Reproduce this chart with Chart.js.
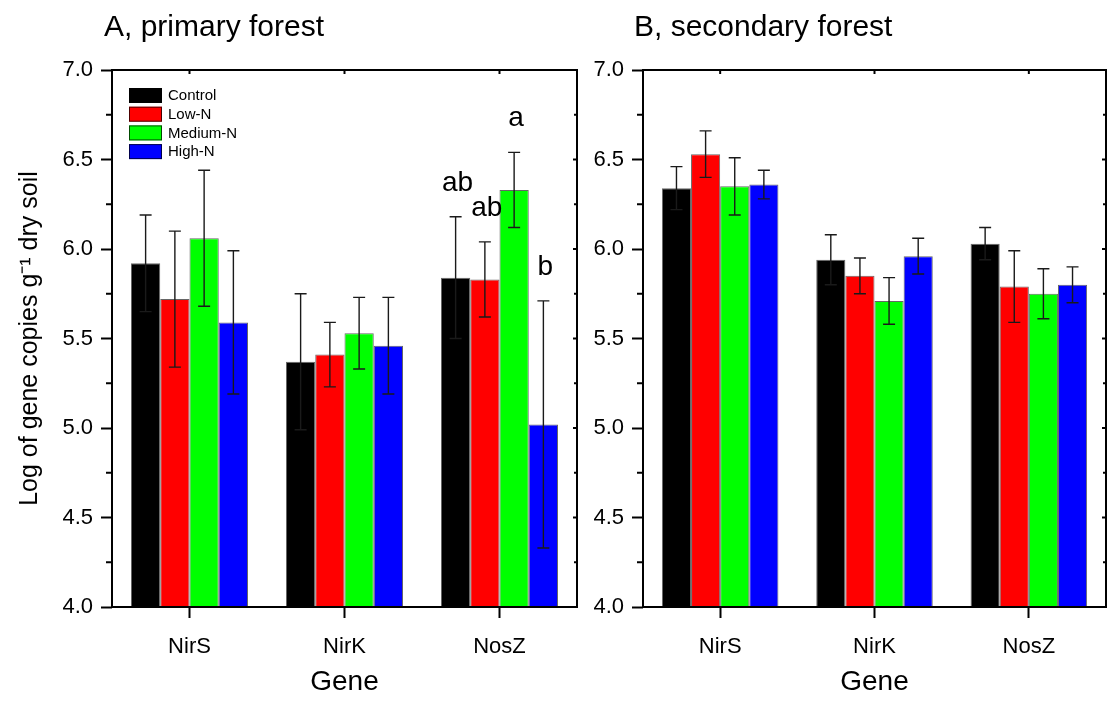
<!DOCTYPE html>
<html>
<head>
<meta charset="utf-8">
<script src="https://cdn.jsdelivr.net/npm/chart.js@4.4.1/dist/chart.umd.min.js"></script>
<style>
  html, body { margin: 0; padding: 0; background: #fff; }
  #wrap { position: relative; width: 1107px; height: 702px; overflow: hidden; font-family: "Liberation Sans", Arial, sans-serif; }
  canvas { position: absolute; top: 0; }
  .ptitle { position: absolute; top: 0; height: 52px; line-height: 52px; font-size: 30px; color: #000; white-space: nowrap; }
</style>
</head>
<body>
<div id="wrap">
  <canvas id="cA" width="580" height="702" style="left:0px"></canvas>
  <canvas id="cB" width="527" height="702" style="left:580px"></canvas>
  <div class="ptitle" style="left:104px">A, primary forest</div>
  <div class="ptitle" style="left:634px">B, secondary forest</div>
</div>
<script>
// ---- data ----
const genes = ['NirS', 'NirK', 'NosZ'];
const treatments = ['Control', 'Low-N', 'Medium-N', 'High-N'];
const treatmentColors = ['#000000', '#FF0000', '#00FF00', '#0000FF'];
const yTickMin = 4.0;
const yTickMax = 7.0;
const yTickStep = 0.5;

// A, primary forest (means and error)
const primaryControl = [5.92, 5.37, 5.84];
const primaryLowN    = [5.72, 5.41, 5.83];
const primaryMediumN = [6.06, 5.53, 6.33];
const primaryHighN   = [5.59, 5.46, 5.02];
const primaryControlErr = [0.27, 0.38, 0.34];
const primaryLowNErr    = [0.38, 0.18, 0.21];
const primaryMediumNErr = [0.38, 0.20, 0.21];
const primaryHighNErr   = [0.40, 0.27, 0.69];
// significance letters (per treatment, per gene)
const primaryControlLetters = ['', '', 'ab'];
const primaryLowNLetters    = ['', '', 'ab'];
const primaryMediumNLetters = ['', '', 'a'];
const primaryHighNLetters   = ['', '', 'b'];

// B, secondary forest
const secondaryControl = [6.34, 5.94, 6.03];
const secondaryLowN    = [6.53, 5.85, 5.79];
const secondaryMediumN = [6.35, 5.71, 5.75];
const secondaryHighN   = [6.36, 5.96, 5.80];
const secondaryControlErr = [0.12, 0.14, 0.09];
const secondaryLowNErr    = [0.13, 0.10, 0.20];
const secondaryMediumNErr = [0.16, 0.13, 0.14];
const secondaryHighNErr   = [0.08, 0.10, 0.10];

const FONT = '"Liberation Sans", Arial, sans-serif';

function makeDatasets(means, errs, letters) {
  return treatments.map((t, i) => ({
    label: t,
    data: means[i],
    errors: errs[i],
    letters: letters ? letters[i] : null,
    backgroundColor: treatmentColors[i],
    borderColor: 'rgba(0,0,0,0.6)',
    borderWidth: 1,
    borderSkipped: 'bottom',
    categoryPercentage: 0.755,
    barPercentage: 1.0
  }));
}

const frameAndTicks = {
  id: 'frameAndTicks',
  afterDraw(chart) {
    const ctx = chart.ctx;
    const a = chart.chartArea;
    const ys = chart.scales.y, xs = chart.scales.x;
    ctx.save();
    ctx.strokeStyle = '#000';
    ctx.lineWidth = 2;
    ctx.strokeRect(a.left, a.top, a.right - a.left, a.bottom - a.top);
    const t = ys.ticks;
    for (let i = 0; i < t.length; i++) {
      const yp = ys.getPixelForValue(t[i].value);
      ctx.beginPath(); ctx.moveTo(a.right, yp); ctx.lineTo(a.right - 4, yp); ctx.stroke();
      if (i < t.length - 1) {
        const mv = (t[i].value + t[i + 1].value) / 2;
        const mp = ys.getPixelForValue(mv);
        ctx.beginPath(); ctx.moveTo(a.left, mp); ctx.lineTo(a.left - 6, mp); ctx.stroke();
        ctx.beginPath(); ctx.moveTo(a.right, mp); ctx.lineTo(a.right - 3, mp); ctx.stroke();
      }
    }
    for (let i = 0; i < xs.ticks.length; i++) {
      const xp = xs.getPixelForTick(i);
      ctx.beginPath(); ctx.moveTo(xp, a.top); ctx.lineTo(xp, a.top + 4); ctx.stroke();
    }
    ctx.restore();
  }
};

const errorBars = {
  id: 'errorBars',
  afterDatasetsDraw(chart) {
    const ctx = chart.ctx;
    const ys = chart.scales.y;
    ctx.save();
    ctx.strokeStyle = '#1a1a1a';
    ctx.lineWidth = 1.4;
    chart.data.datasets.forEach((ds, di) => {
      const meta = chart.getDatasetMeta(di);
      meta.data.forEach((bar, j) => {
        const v = ds.data[j], e = ds.errors[j];
        const x = bar.x;
        const yT = ys.getPixelForValue(v + e);
        const yB = ys.getPixelForValue(v - e);
        ctx.beginPath();
        ctx.moveTo(x, yT); ctx.lineTo(x, yB);
        ctx.moveTo(x - 6, yT); ctx.lineTo(x + 6, yT);
        ctx.moveTo(x - 6, yB); ctx.lineTo(x + 6, yB);
        ctx.stroke();
        if (ds.letters && ds.letters[j]) {
          ctx.fillStyle = '#000';
          ctx.font = '28px ' + FONT;
          ctx.textAlign = 'center';
          ctx.textBaseline = 'alphabetic';
          ctx.fillText(ds.letters[j], x + 2, yT - 26);
        }
      });
    });
    ctx.restore();
  }
};

const innerLegend = {
  id: 'innerLegend',
  afterDraw(chart) {
    if (!chart.options.plugins.innerLegend || !chart.options.plugins.innerLegend.show) return;
    const ctx = chart.ctx;
    const a = chart.chartArea;
    const x0 = a.left + 17, y0 = a.top + 18, pitch = 18.7;
    ctx.save();
    ctx.font = '15px ' + FONT;
    ctx.textBaseline = 'middle';
    ctx.textAlign = 'left';
    chart.data.datasets.forEach((ds, i) => {
      const y = y0 + i * pitch;
      ctx.fillStyle = ds.backgroundColor;
      ctx.fillRect(x0, y, 33, 15);
      ctx.strokeStyle = 'rgba(0,0,0,0.7)';
      ctx.lineWidth = 1;
      ctx.strokeRect(x0 + 0.5, y + 0.5, 32, 14);
      ctx.fillStyle = '#000';
      ctx.fillText(ds.label, x0 + 39, y + 8);
    });
    ctx.restore();
  }
};

function makeChart(id, datasets, opts) {
  return new Chart(document.getElementById(id), {
    type: 'bar',
    data: { labels: genes, datasets },
    plugins: [errorBars, frameAndTicks, innerLegend],
    options: {
      responsive: false,
      animation: false,
      devicePixelRatio: 1,
      layout: { padding: { top: 70, right: opts.padRight, bottom: 0, left: 0 } },
      plugins: {
        legend: { display: false },
        tooltip: { enabled: false },
        innerLegend: { show: opts.legend }
      },
      scales: {
        x: {
          offset: true,
          border: { display: false },
          grid: { display: true, drawOnChartArea: false, drawTicks: true, tickLength: 11, tickWidth: 2, tickColor: '#000', offset: false },
          ticks: { color: '#000', font: { family: FONT, size: 22 }, padding: 16, maxRotation: 0 },
          title: { display: true, text: 'Gene', color: '#000', font: { family: FONT, size: 28 }, padding: { top: 0, bottom: 3 } },
          afterFit(s) { s.height = 95; }
        },
        y: {
          min: yTickMin,
          max: yTickMax,
          border: { display: false },
          grid: { display: true, drawOnChartArea: false, drawTicks: true, tickLength: 11, tickWidth: 2, tickColor: '#000' },
          ticks: { stepSize: yTickStep, color: '#000', font: { family: FONT, size: 22 }, padding: 8,
                   callback: v => Number(v).toFixed(1) },
          title: { display: opts.yTitle, text: 'Log of gene copies g\u207B\u00B9 dry soil', color: '#000',
                   font: { family: FONT, size: 25 }, padding: { top: 15, bottom: 0 } },
          afterFit(s) { s.width = opts.yWidth; }
        }
      }
    }
  });
}

makeChart('cA',
  makeDatasets([primaryControl, primaryLowN, primaryMediumN, primaryHighN],
               [primaryControlErr, primaryLowNErr, primaryMediumNErr, primaryHighNErr],
               [primaryControlLetters, primaryLowNLetters, primaryMediumNLetters, primaryHighNLetters]),
  { padRight: 3, legend: true, yTitle: true, yWidth: 112 });

makeChart('cB',
  makeDatasets([secondaryControl, secondaryLowN, secondaryMediumN, secondaryHighN],
               [secondaryControlErr, secondaryLowNErr, secondaryMediumNErr, secondaryHighNErr],
               null),
  { padRight: 1, legend: false, yTitle: false, yWidth: 63 });
</script>
</body>
</html>
